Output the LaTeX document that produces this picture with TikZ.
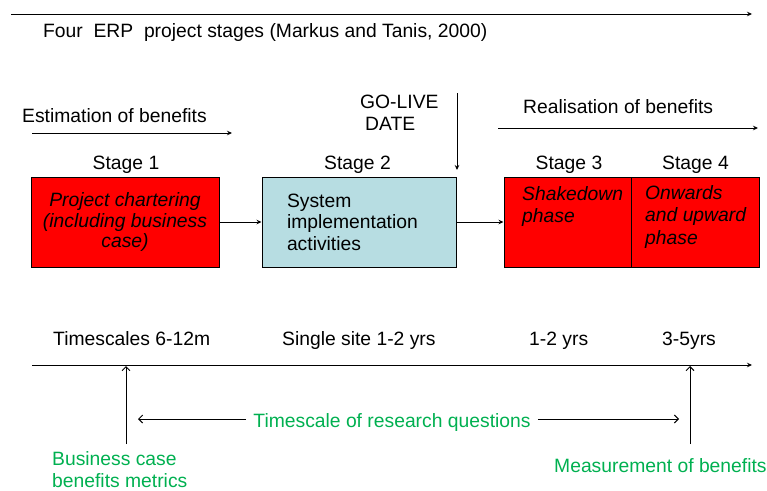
\documentclass[tikz,border=0pt]{standalone}
\usepackage{fontspec}
\setmainfont{Liberation Sans}
\usetikzlibrary{arrows.meta}
\definecolor{boxblue}{RGB}{183,221,226}
\definecolor{txtgreen}{RGB}{0,176,80}
\begin{document}
\begin{tikzpicture}[x=1pt,y=-1pt,
  arr/.style={-{Stealth[length=5pt,width=4.5pt]}, line width=1pt},
  barb/.style={-{Straight Barb[length=4pt,width=8pt]}, line width=1pt},
  txt/.style={inner sep=0pt, font=\fontsize{19.3}{22}\selectfont},
  gtxt/.style={txt, text=txtgreen},
  box/.style={draw=black, line width=1pt, minimum height=90pt, inner sep=0pt,
    font=\fontsize{19.3}{21.5}\selectfont},
  itxt/.style={inner sep=0pt, align=left, font=\fontsize{19.3}{22.5}\selectfont\itshape}
]
\useasboundingbox (0,0) rectangle (767,490);

% top timeline
\coordinate (ta1) at (11,14);
\coordinate (ta2) at (752,14);
\draw[arr] (ta1) -- (ta2);
\node[txt, anchor=base west] (title) at (43,37) {Four\ \ ERP\ \ project stages (Markus and Tanis, 2000)};

% estimation
\node[txt, anchor=base west] (est) at (22,122) {Estimation of benefits};
\coordinate (ea1) at (32,133);
\coordinate (ea2) at (232,133);
\draw[arr] (ea1) -- (ea2);

% go-live
\node[txt, anchor=base west] (go) at (360,108) {GO-LIVE};
\node[txt, anchor=base west] (date) at (365,130) {DATE};
\coordinate (gl1) at (457,93);
\coordinate (gl2) at (457,170);
\draw[arr] (gl1) -- (gl2);

% realisation
\node[txt, anchor=base west] (real) at (523,113) {Realisation of benefits};
\coordinate (ra1) at (498,128);
\coordinate (ra2) at (758,128);
\draw[arr] (ra1) -- (ra2);

% stage labels
\node[txt, anchor=base] (s1) at (126,169) {Stage 1};
\node[txt, anchor=base] (s2) at (357.5,169) {Stage 2};
\node[txt, anchor=base] (s3) at (569,169) {Stage 3};
\node[txt, anchor=base] (s4) at (695.5,169) {Stage 4};

% boxes
\node[box, fill=red, minimum width=188pt, align=center, font=\fontsize{19.3}{20.5}\selectfont\itshape]
  (b1) at (125,222) {Project chartering\\(including business\\case)};
\node[box, fill=boxblue, minimum width=194pt, text width=144pt, align=left]
  (b2) at (359,222) {System\\implementation\\activities};
\node[box, fill=red, minimum width=127pt] (b3) at (567.5,222) {};
\node[box, fill=red, minimum width=128pt] (b4) at (695,222) {};
\node[itxt, anchor=base west] (t3) at (522,222.5) {Shakedown\\phase};
\node[itxt, anchor=base west] (t4) at (645,244) {Onwards\\and upward\\phase};

\draw[arr] (b1.east) -- (b2.west);
\draw[arr] (b2.east) -- (b3.west);

% time scales
\node[txt, anchor=base west] (ts1) at (53,345) {Timescales 6-12m};
\node[txt, anchor=base west] (ts2) at (282,345) {Single site 1-2 yrs};
\node[txt, anchor=base west] (ts3) at (529,345) {1-2 yrs};
\node[txt, anchor=base west] (ts4) at (662,345) {3-5yrs};

% bottom timeline
\coordinate (bl1) at (32,365);
\coordinate (bl2) at (752,365);
\draw[arr] (bl1) -- (bl2);

\coordinate (u1a) at (126,444);
\coordinate (u1b) at (126,366);
\coordinate (u2a) at (690,444);
\coordinate (u2b) at (690,366);
\draw[barb] (u1a) -- (u1b);
\draw[barb] (u2a) -- (u2b);

% research questions
\node[gtxt, anchor=base, inner xsep=7pt] (rq) at (392,427) {Timescale of research questions};
\coordinate (rqL) at (138,419);
\coordinate (rqR) at (679,419);
\draw[barb] (rq.west |- rqL) -- (rqL);
\draw[barb] (rq.east |- rqR) -- (rqR);

\node[gtxt, anchor=base west] (bc1) at (52,465) {Business case};
\node[gtxt, anchor=base west] (bc2) at (52,487) {benefits metrics};
\node[gtxt, anchor=base west] (mb) at (554,472) {Measurement of benefits};
\end{tikzpicture}
\end{document}
